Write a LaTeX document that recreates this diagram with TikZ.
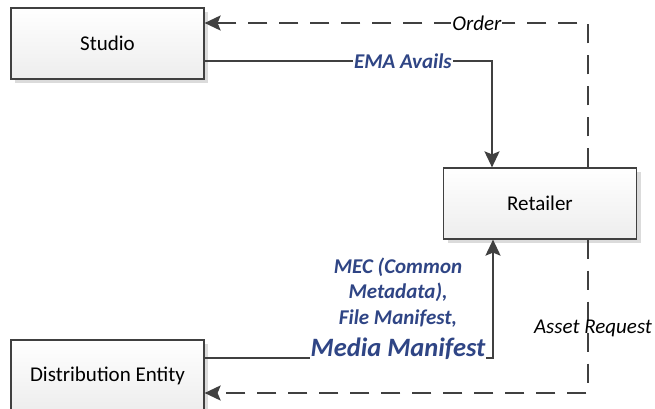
\documentclass[tikz,border=0pt]{standalone}
\usepackage{fontspec}
\setmainfont{Carlito}
\usetikzlibrary{positioning,arrows.meta,shadows}
\definecolor{lineGray}{HTML}{404040}
\definecolor{labelBlue}{HTML}{2F4585}
\tikzset{
  boxnode/.style={draw=lineGray,line width=1.2pt,minimum width=193pt,minimum height=71pt,
    top color=white,bottom color=black!7,
    drop shadow={shadow xshift=4pt,shadow yshift=-4pt,fill=black!14,opacity=1},
    font=\fontsize{21}{25}\selectfont},
  flowline/.style={draw=lineGray,line width=2.2pt,-{Stealth[length=16pt,width=15pt,inset=3pt]}},
  dashline/.style={flowline,dash pattern=on 19pt off 12pt},
  blueLabel/.style={text=labelBlue,font=\fontsize{21}{25.5}\selectfont\bfseries\itshape},
  blackLabel/.style={text=black,font=\fontsize{21}{25}\selectfont\itshape}
}
\newcommand{\myBox}[4]{
    \node[boxnode] (#3) at (#1,#2) {#4};
}

\begin{document}
\begin{tikzpicture}[x=1pt,y=-1pt]
      \useasboundingbox (0,0) rectangle (655,409);

      \myBox{107.5}{43.5}{studio}{Studio}
      \myBox{540}{203.5}{retailer}{Retailer}
      \myBox{107.5}{375.5}{dist}{Distribution Entity}

      \coordinate (orderTurn) at (588,23);
      \coordinate (emaTurn) at (492,61);
      \coordinate (assetTurn) at (588,393);
      \coordinate (mecTurn) at (493,358);

      \draw[dashline] (retailer.north -| orderTurn) -- (orderTurn)
        -- node[pos=0.29,fill=white,inner xsep=1pt,inner ysep=0pt,blackLabel] (orderLbl) {Order}
        (studio.east |- orderTurn);
      \draw[flowline] (studio.east |- emaTurn)
        -- node[pos=0.69,fill=white,inner xsep=1pt,inner ysep=0pt,blueLabel] (emaLbl) {EMA Avails}
        (emaTurn) -- (retailer.north -| emaTurn);
      \draw[dashline] (retailer.south -| assetTurn)
        -- node[pos=0.58,xshift=5pt,inner sep=0pt,blackLabel] (assetLbl) {Asset Request}
        (assetTurn) -- (dist.east |- assetTurn);
      \draw[flowline] (dist.east |- mecTurn) -- (mecTurn) -- (retailer.south -| mecTurn);
      \node[anchor=south,align=center,fill=white,inner xsep=1pt,inner ysep=0pt,blueLabel] (mecLbl)
        at (398,359.5) {MEC (Common\\Metadata),\\File Manifest,\\[6.5pt]{\fontsize{26.5}{30}\selectfont Media Manifest}};

  \end{tikzpicture}
\end{document}
